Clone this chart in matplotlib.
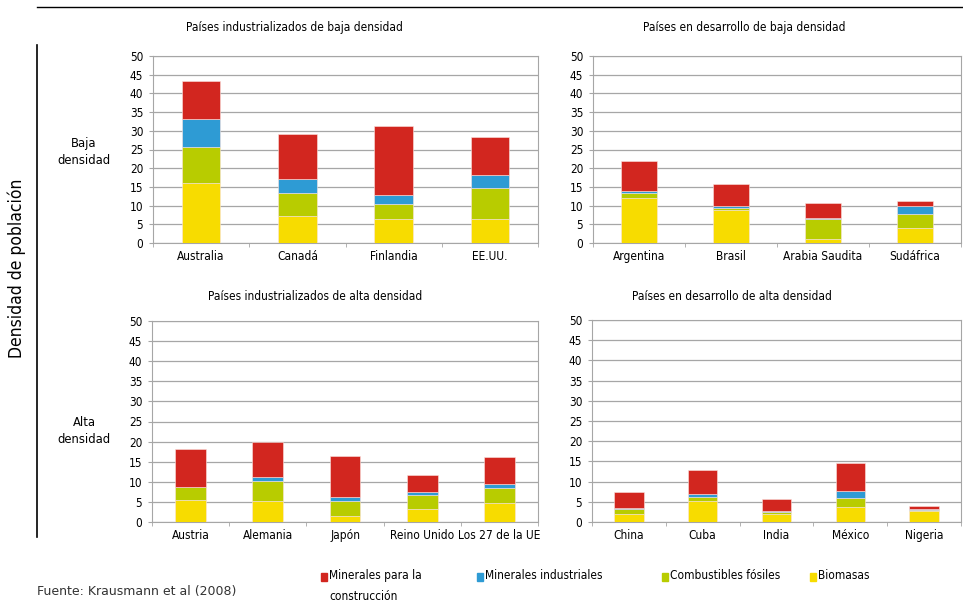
import numpy as np
import matplotlib
matplotlib.use('Agg')
import matplotlib.pyplot as plt
import matplotlib.font_manager as fm
from matplotlib.patches import Rectangle

# datos (t per capita)
paises_ib = ['Australia', 'Canadá', 'Finlandia', 'EE.UU.']
bio_ib = [16.0, 7.3, 6.4, 6.5]
fos_ib = [9.7, 6.2, 4.0, 8.1]
ind_ib = [7.5, 3.6, 2.5, 3.7]
con_ib = [10.1, 12.1, 18.4, 10.1]

paises_db = ['Argentina', 'Brasil', 'Arabia Saudita', 'Sudáfrica']
bio_db = [12.1, 8.7, 1.2, 3.9]
fos_db = [1.3, 0.6, 5.2, 3.9]
ind_db = [0.6, 0.6, 0.2, 2.2]
con_db = [7.9, 6.0, 4.1, 1.3]

paises_ia = ['Austria', 'Alemania', 'Japón', 'Reino Unido', 'Los 27 de la UE']
bio_ia = [5.4, 5.1, 1.4, 3.2, 4.7]
fos_ia = [3.2, 5.2, 3.7, 3.6, 3.8]
ind_ia = [0.2, 0.8, 1.1, 0.6, 0.9]
con_ia = [9.4, 8.8, 10.2, 4.3, 6.7]

paises_da = ['China', 'Cuba', 'India', 'México', 'Nigeria']
bio_da = [2.0, 5.2, 2.1, 3.7, 2.8]
fos_da = [1.1, 1.0, 0.4, 2.2, 0.2]
ind_da = [0.4, 0.7, 0.2, 1.7, 0.1]
con_da = [4.0, 6.0, 2.9, 7.0, 0.9]

series = ['Minerales para la\nconstrucción', 'Minerales industriales',
          'Combustibles fósiles', 'Biomasas']
colores = ['#D2261F', '#2E9BD4', '#B8CC00', '#F7DC00']
yticks = [0, 5, 10, 15, 20, 25, 30, 35, 40, 45, 50]

# buscar una fuente estrecha si hay alguna
narrow_file = None
scale = 1.0
for f in fm.fontManager.ttflist:
    nm = f.name + ' ' + f.fname
    if f.style != 'normal' or f.weight not in (400, 'normal', 'regular'):
        continue
    if 'Bold' in f.fname or 'Italic' in f.fname or 'Oblique' in f.fname:
        continue
    if 'Narrow' in nm or 'Condensed' in nm:
        if 'Mono' in nm or 'Serif' in nm:
            continue
        narrow_file = f.fname
        break
if narrow_file is None:
    scale = 0.8


def fp(size):
    if narrow_file:
        return fm.FontProperties(fname=narrow_file, size=size)
    return fm.FontProperties(family='DejaVu Sans', size=size * scale)


fig = plt.figure(figsize=(9.63, 6.03), dpi=100)
W, H = 963, 603


def px(x0, y0, x1, y1):
    return [x0 / W, (H - y1) / H, (x1 - x0) / W, (y1 - y0) / H]


def panel(rect, paises, bio, fos, ind, con):
    ax = fig.add_axes(rect)
    x = np.arange(len(paises))
    capas = [bio, fos, ind, con]
    cols = colores[::-1]
    base = np.zeros(len(paises))
    for v, c in zip(capas, cols):
        ax.bar(x, v, 0.4, bottom=base, color=c, edgecolor='#FBE3E0', linewidth=0.4, zorder=3)
        base = base + np.array(v)
    ax.set_xlim(-0.5, len(paises) - 0.5)
    ax.set_ylim(0, 50)
    ax.set_yticks(yticks)
    ax.set_yticklabels([str(t) for t in yticks], fontproperties=fp(8.5))
    ax.yaxis.grid(True, color='#A6A6A6', linewidth=0.9, zorder=0)
    ax.set_xticks(x)
    ax.set_xticklabels(paises, fontproperties=fp(8.6))
    ax.set_xticks(np.arange(len(paises) + 1) - 0.5, minor=True)
    ax.tick_params(axis='x', which='major', length=0, pad=5)
    ax.tick_params(axis='x', which='minor', length=3, color='#A6A6A6')
    ax.tick_params(axis='y', length=3, color='#A6A6A6', pad=4)
    for s in ax.spines.values():
        s.set_color('#A6A6A6')
    return ax


panel(px(153, 56, 538, 243), paises_ib, bio_ib, fos_ib, ind_ib, con_ib)
panel(px(593, 56, 961, 243), paises_db, bio_db, fos_db, ind_db, con_db)
panel(px(152, 321, 538, 522), paises_ia, bio_ia, fos_ia, ind_ia, con_ia)
panel(px(592, 320, 961, 522), paises_da, bio_da, fos_da, ind_da, con_da)

# titulos de paneles
fig.text(294 / W, 1 - 27 / H, 'Países industrializados de baja densidad', fontproperties=fp(8.6), ha='center', va='center')
fig.text(744 / W, 1 - 27 / H, 'Países en desarrollo de baja densidad', fontproperties=fp(8.6), ha='center', va='center')
fig.text(315 / W, 1 - 296 / H, 'Países industrializados de alta densidad', fontproperties=fp(8.6), ha='center', va='center')
fig.text(732 / W, 1 - 296 / H, 'Países en desarrollo de alta densidad', fontproperties=fp(8.6), ha='center', va='center')

# etiquetas de filas
fig.text(84 / W, 1 - 152 / H, 'Baja\ndensidad', fontproperties=fp(9.3),
         ha='center', va='center', linespacing=1.35)
fig.text(84 / W, 1 - 431 / H, 'Alta\ndensidad', fontproperties=fp(9.3),
         ha='center', va='center', linespacing=1.35)
fig.text(17 / W, 1 - 268 / H, 'Densidad de población', fontproperties=fp(12.5),
         rotation=90, ha='center', va='center')

# lineas
fig.add_artist(plt.Line2D([37 / W, 1.0], [1 - 7 / H, 1 - 7 / H], color='black', linewidth=1.0))
fig.add_artist(plt.Line2D([37 / W, 37 / W], [1 - 45 / H, 1 - 537 / H], color='black', linewidth=1.2))

# leyenda
leg_x = [321, 477, 662, 810]
for xx, lab, c in zip(leg_x, series, colores):
    fig.add_artist(Rectangle((xx / W, 1 - 581 / H), 6 / W, 8 / H, color=c, transform=fig.transFigure))
    fig.text((xx + 8) / W, 1 - 569 / H, lab, fontproperties=fp(8.6),
             ha='left', va='top', linespacing=1.75)

fig.text(37 / W, 1 - 591 / H, 'Fuente: Krausmann et al (2008)', fontsize=9,
         ha='left', va='center', color='#333333')

fig.savefig('out.png', dpi=100)
